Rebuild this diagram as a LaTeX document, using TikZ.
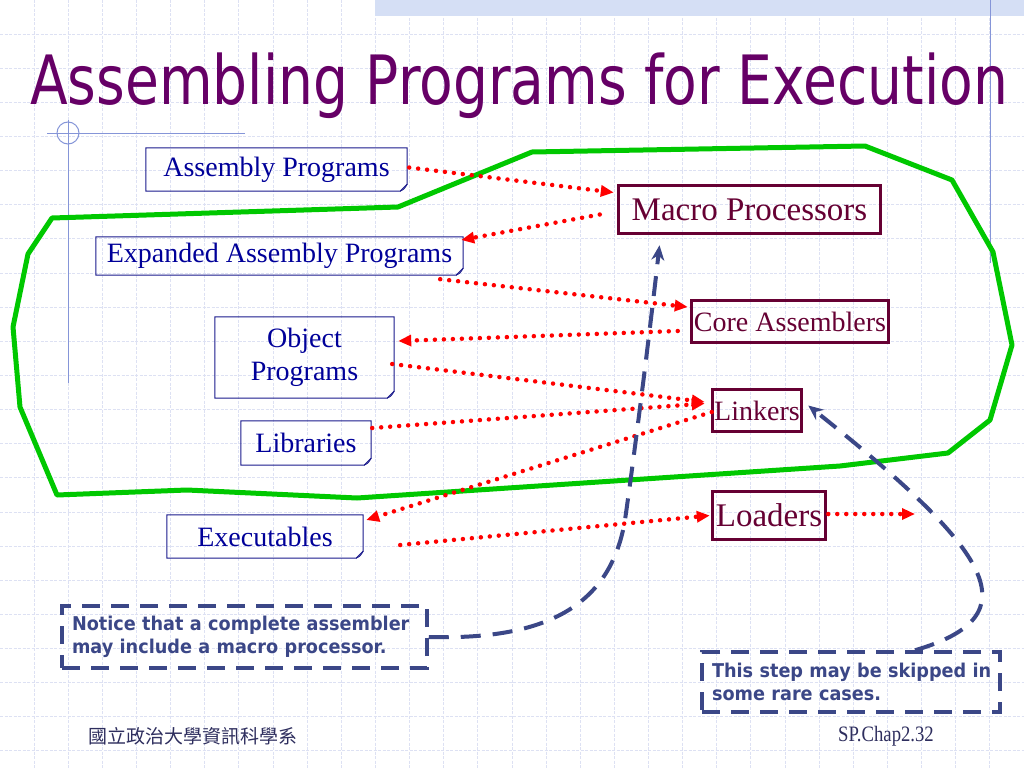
\documentclass[tikz,border=0pt]{standalone}
\usepackage{fontspec}
\setmainfont{Liberation Serif}
\newfontfamily\titlefont[FakeStretch=0.81]{DejaVu Sans}
\newfontfamily\notefont[FakeStretch=0.93]{DejaVu Sans}
\newfontfamily\cjkfont{Noto Sans CJK TC}
\newfontfamily\footfont[FakeStretch=0.85]{Liberation Serif}
\usepackage{xcolor}
\usepackage{tikz}
\usetikzlibrary{arrows.meta, calc}

\definecolor{titlepurple}{HTML}{660066}
\definecolor{progtext}{HTML}{000099}
\definecolor{progline}{HTML}{1A1A8C}
\definecolor{toolred}{HTML}{660033}
\definecolor{hullgreen}{HTML}{00C800}
\definecolor{notecolor}{HTML}{3B4787}
\definecolor{gridcolor}{HTML}{DDE1F3}
\definecolor{ornament}{HTML}{8595D8}
\definecolor{stripcolor}{HTML}{D5DFF5}
\definecolor{footcolor}{HTML}{2E2E5E}

\begin{document}
\begin{tikzpicture}[
    x=1pt, y=-1pt,
    gridline/.style={draw=gridcolor, line width=1pt, dash pattern=on 3pt off 1.5pt},
    progbox/.style={text=progtext, font=\fontsize{28}{33}\selectfont, align=center, inner sep=0pt,
      append after command={\pgfextra{
        \draw[draw=progline, line width=1pt]
          (\tikzlastnode.north west) -- (\tikzlastnode.north east)
          -- ([yshift=7pt]\tikzlastnode.south east)
          -- ([xshift=-7pt]\tikzlastnode.south east)
          -- (\tikzlastnode.south west) -- cycle;
        \draw[draw=progline, line width=0.8pt]
          ([yshift=7pt]\tikzlastnode.south east) .. controls ([xshift=-3pt,yshift=2pt]\tikzlastnode.south east)
          .. ([xshift=-7pt]\tikzlastnode.south east);
      }}},
    toolbox/.style={draw=toolred, line width=3.5pt, text=toolred, inner sep=0pt, font=\fontsize{#1}{#1}\selectfont},
    redarrow/.style={draw=red, line width=4.5pt, line cap=round, dash pattern=on 0pt off 9pt,
      -{Triangle[length=13pt, width=11pt, fill=red]}},
    bluedash/.style={draw=notecolor, line width=4pt, dash pattern=on 20pt off 12pt,
      -{Stealth[length=15pt, width=13pt, fill=notecolor]}},
    notebox/.style={draw=notecolor, line width=3.5pt, dash pattern=on 18pt off 11pt, text=notecolor,
      align=left, inner sep=0pt, font=\notefont\bfseries\fontsize{19}{23}\selectfont}
]
\useasboundingbox (0,0) rectangle (1024,768);
\fill[white] (0,0) rectangle (1024,768);

% background grid
\foreach \i in {1,...,29} \draw[gridline] (\i*34.133,0) -- (\i*34.133,768);
\foreach \j in {1,...,22} \draw[gridline] (0,\j*34.133) -- (1024,\j*34.133);
\fill[stripcolor] (375,0) rectangle (1024,16);
\draw[ornament, line width=1pt] (47,133) -- (245,133) (68,120) -- (68,383) (990,0) -- (990,263);
\draw[ornament, line width=1pt] (68,133) circle[radius=11];

% title
\node[anchor=base west, inner sep=0pt, text=titlepurple, font=\titlefont\fontsize{68}{68}\selectfont]
  (title) at (30,104) {Assembling Programs for Execution};

% green hull
\draw[hullgreen, line width=5pt, line join=round]
  (52,218) -- (398,207) -- (532,152) -- (865,146) -- (952,180) -- (993,252) -- (1012,345)
  -- (990,420) -- (948,453) -- (840,466) -- (357,498) -- (187,490) -- (57,495)
  -- (20,407) -- (13,327) -- (28,254) -- cycle;

% programs
\node[progbox, minimum width=261pt, minimum height=43pt] (asm) at (276.5,169.5) {Assembly Programs};
\node[progbox, minimum width=367pt, minimum height=38pt] (expanded) at (279.5,256) {Expanded Assembly Programs};
\node[progbox, minimum width=179pt, minimum height=81pt] (object) at (304.5,357.5) {Object\\Programs};
\node[progbox, minimum width=130pt, minimum height=44pt] (libs) at (306,443) {Libraries};
\node[progbox, minimum width=196pt, minimum height=43pt] (exec) at (265,536.5) {Executables};

% tools
\node[toolbox=33, minimum width=262pt, minimum height=48pt] (macro) at (749.5,209.5) {Macro Processors};
\node[toolbox=28, minimum width=197pt, minimum height=42pt] (core) at (790,321.5) {Core Assemblers};
\node[toolbox=28, minimum width=89pt, minimum height=42pt] (linkers) at (757,410.5) {Linkers};
\node[toolbox=33, minimum width=113pt, minimum height=48pt] (loaders) at (769,515.5) {Loaders};
\coordinate (loadout) at (915,514);

% notes
\node[notebox, minimum width=365pt, minimum height=62pt, text width=345pt] (notice) at (244.5,637)
  {Notice that a complete assembler\\may include a macro processor.};
\node[notebox, minimum width=298pt, minimum height=60pt, text width=278pt] (skip) at (851,682)
  {\makebox[0pt][l]{This step may be skipped in}\\some rare cases.};

% data flow
\draw[redarrow] ($(asm.east)+(2,-2)$) -- ($(macro.west)+(-3,-17)$);
\draw[redarrow] ($(macro.west)+(-17,5)$) -- ($(expanded.east)+(-2,-16)$);
\draw[redarrow] ($(expanded.south east)+(-23,4)$) -- ($(core.west)+(-2,-14.5)$);
\draw[redarrow] ($(core.west)+(-12,9.5)$) -- ($(object.east)+(4,-16.5)$);
\draw[redarrow] ($(object.east)+(-2,6.5)$) -- ($(linkers.west)+(-6,-8.5)$);
\draw[redarrow] ($(libs.east)+(1,-15)$) -- ($(linkers.west)+(-6,-7)$);
\draw[redarrow] ($(linkers.west)+(1,1.5)$) -- ($(exec.east)+(3,-16.5)$);
\draw[redarrow] ($(exec.east)+(37,8.5)$) -- ($(loaders.west)+(-1,0)$);
\draw[redarrow] ($(loaders.east)+(1,-1.5)$) -- (loadout);

% remarks
\draw[bluedash] (notice.east) .. controls (540,640) and (610,610) .. (625,520)
  .. controls (635,450) and (650,330) .. ($(macro.south)+(-90,10)$);
\draw[bluedash] ($(skip.north)+(64,0)$) .. controls (1035,615) and (990,550) .. ($(linkers.east)+(5,-5)$);

% footer
\node[anchor=west, inner sep=0pt, text=footcolor, font=\cjkfont\fontsize{19}{19}\selectfont]
  (dept) at (88,736) {國立政治大學資訊科學系};
\node[anchor=west, inner sep=0pt, text=footcolor, font=\footfont\fontsize{22}{22}\selectfont]
  (page) at (838,736) {SP.Chap2.32};
\end{tikzpicture}
\end{document}
